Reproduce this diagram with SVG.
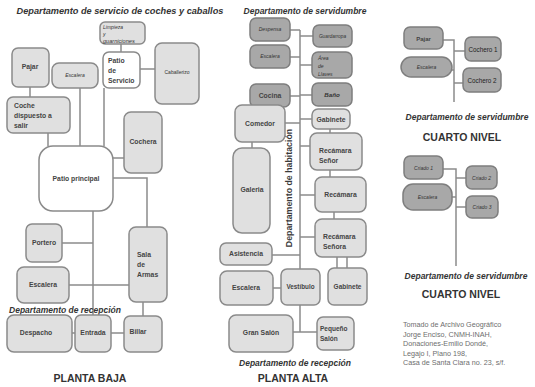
<svg xmlns="http://www.w3.org/2000/svg" width="535" height="387" viewBox="0 0 535 387">
<style>
rect{stroke-width:1.5}
.l{fill:#e0e0e0;stroke:#8a8a8a}
.w{fill:#ffffff;stroke:#8a8a8a}
.d{fill:#a8a8a8;stroke:#7e7e7e}
#connectors path{stroke:#8c8c8c;stroke-width:1.5;fill:none}
text{font-family:"Liberation Sans",Arial,sans-serif;fill:#444}
.t{font-weight:bold;font-size:6.8px;text-anchor:middle}
.tl{font-weight:bold;font-size:6.8px}
.s{font-style:italic;font-size:5px;text-anchor:middle;fill:#333}
.sl{font-style:italic;font-size:5px;fill:#333}
.h{font-weight:bold;font-style:italic;font-size:8.5px;text-anchor:middle;fill:#333}
.p{font-weight:bold;font-size:10.5px;text-anchor:middle;fill:#333}
.cr{font-size:7.2px;fill:#6e6e6e}
</style>
<rect width="535" height="387" fill="#ffffff"/>
<g id="connectors">
<path d="M121,44V52M140,69H155M30,87V97M80,88V146M104,88V146M48,133V146M113,158H124M113,178H147V227M93,211V315M62,243H93M69,285H129M72,333H75M111,333H124M143,302V316"/>
<path d="M300,30V269M290,30H300M290,57H300M290,96H300M285,123H300M300,36H313M300,65H312M300,95H312M300,119H312M330,129V133M300,146H310M330,170V177M300,195H315M334,212V219M300,237H315M252,142V148M272,255H300M273,288H281M337,257V268M347,257V268M300,305V332M293,332H317"/>
<path d="M443,40H454V102M452,70H454M454,51H465M454,83H463"/>
<path d="M443,169H456V266M452,197H456M456,178H466M456,207H466"/>
</g>
<g id="labels">
<text class="h" x="120" y="14" style="font-size:9.2px">Departamento de servicio de coches y caballos</text>
<text class="h" x="305" y="14">Departamento de servidumbre</text>
<text class="h" x="65" y="313">Departamento de recepción</text>
<text class="p" x="90" y="382">PLANTA BAJA</text>
<text class="h" x="295" y="366">Departamento de recepción</text>
<text class="p" x="293" y="382">PLANTA ALTA</text>
<text style="font-weight:bold;font-size:8.8px;text-anchor:middle;fill:#3a3a3a" transform="translate(292,188) rotate(-90)">Departamento de habitación</text>
<text class="h" x="467" y="120">Departamento de servidumbre</text>
<text class="p" x="462" y="141">CUARTO NIVEL</text>
<text class="h" x="466" y="279">Departamento de servidumbre</text>
<text class="p" x="461" y="298">CUARTO NIVEL</text>
<text class="cr" x="403" y="327">Tomado de Archivo Geográfico</text>
<text class="cr" x="403" y="336.5">Jorge Enciso, CNMH-INAH,</text>
<text class="cr" x="403" y="346">Donaciones-Emilio Dondé,</text>
<text class="cr" x="403" y="355.5">Legajo I, Plano 198,</text>
<text class="cr" x="403" y="365">Casa de Santa Clara no. 23, s/f.</text>
</g>
<g id="limpieza"><rect class="l" x="100" y="22" width="45" height="22" rx="5"/><text class="sl" x="103" y="29">Limpieza</text><text class="sl" x="103" y="36">y</text><text class="sl" x="103" y="43" style="font-size:5.6px">guarniciones</text></g>
<g id="patio-servicio"><rect class="w" x="103" y="52" width="37" height="36" rx="6"/><text class="tl" x="108" y="63">Patio</text><text class="tl" x="108" y="73">de</text><text class="tl" x="108" y="83">Servicio</text></g>
<g id="caballerizo"><rect class="l" x="155" y="43" width="44" height="61" rx="7"/><text class="s" x="177" y="74" style="font-style:normal">Caballerizo</text></g>
<g id="pajar"><rect class="l" x="12" y="48" width="37" height="39" rx="6"/><text class="t" x="30" y="69">Pajar</text></g>
<g id="escalera-pb1"><rect class="l" x="52" y="63" width="46" height="25" rx="7"/><text class="s" x="75" y="77">Escalera</text></g>
<g id="coche"><rect class="l" x="7" y="97" width="63" height="36" rx="6"/><text class="tl" x="14" y="108">Coche</text><text class="tl" x="14" y="118">dispuesto a</text><text class="tl" x="14" y="128">salir</text></g>
<g id="patio-principal"><rect class="w" x="39" y="146" width="74" height="65" rx="14"/><text class="t" x="76" y="181">Patio principal</text></g>
<g id="cochera"><rect class="l" x="124" y="112" width="38" height="61" rx="7"/><text class="t" x="143" y="144">Cochera</text></g>
<g id="portero"><rect class="l" x="26" y="224" width="36" height="38" rx="6"/><text class="t" x="44" y="245">Portero</text></g>
<g id="sala-armas"><rect class="l" x="129" y="227" width="38" height="75" rx="7"/><text class="tl" x="137" y="257">Sala</text><text class="tl" x="137" y="267">de</text><text class="tl" x="137" y="277">Armas</text></g>
<g id="escalera-pb2"><rect class="l" x="17" y="267" width="52" height="36" rx="7"/><text class="t" x="43" y="287">Escalera</text></g>
<g id="despacho"><rect class="l" x="7" y="315" width="65" height="37" rx="7"/><text class="t" x="36" y="335">Despacho</text></g>
<g id="entrada"><rect class="l" x="75" y="315" width="36" height="37" rx="6"/><text class="t" x="93" y="335">Entrada</text></g>
<g id="billar"><rect class="l" x="124" y="316" width="38" height="36" rx="6"/><text class="t" x="138" y="334">Billar</text></g>
<g id="despensa"><rect class="d" x="250" y="18" width="40" height="23" rx="6"/><text class="s" x="270" y="31">Despensa</text></g>
<g id="escalera-pa1"><rect class="d" x="250" y="45" width="40" height="23" rx="6"/><text class="s" x="270" y="58">Escalera</text></g>
<g id="cocina"><rect class="d" x="250" y="84" width="40" height="23" rx="6"/><text class="t" x="270" y="98">Cocina</text></g>
<g id="comedor"><rect class="l" x="235" y="105" width="50" height="37" rx="7"/><text class="t" x="260" y="126">Comedor</text></g>
<g id="galeria"><rect class="l" x="233" y="148" width="37" height="85" rx="9"/><text class="t" x="252" y="192">Galeria</text></g>
<g id="asistencia"><rect class="l" x="220" y="243" width="52" height="22" rx="6"/><text class="t" x="246" y="256">Asistencia</text></g>
<g id="escalera-pa2"><rect class="l" x="220" y="271" width="53" height="34" rx="7"/><text class="t" x="246" y="290">Escalera</text></g>
<g id="vestibulo"><rect class="l" x="281" y="269" width="39" height="36" rx="6"/><text class="t" x="300.5" y="289" style="font-size:6.3px">Vestíbulo</text></g>
<g id="gabinete-b"><rect class="l" x="328" y="268" width="39" height="37" rx="6"/><text class="t" x="347.5" y="289" style="font-size:6.5px">Gabinete</text></g>
<g id="gran-salon"><rect class="l" x="229" y="315" width="64" height="37" rx="7"/><text class="t" x="261" y="335">Gran Salón</text></g>
<g id="pequeno-salon"><rect class="l" x="317" y="317" width="37" height="33" rx="6"/><text class="tl" x="320" y="331" style="font-size:6.5px">Pequeño</text><text class="tl" x="320" y="341" style="font-size:6.5px">Salón</text></g>
<g id="guardarropa"><rect class="d" x="313" y="25" width="39" height="22" rx="6"/><text class="s" x="332.5" y="38" style="font-size:4.8px">Guardarropa</text></g>
<g id="area-llaves"><rect class="d" x="312" y="52" width="40" height="26" rx="6"/><text class="sl" x="318" y="60">Área</text><text class="sl" x="318" y="68">de</text><text class="sl" x="318" y="76">Llaves</text></g>
<g id="bano"><rect class="d" x="312" y="83" width="40" height="23" rx="6"/><text class="s" x="332" y="97" style="font-size:6.2px;font-weight:bold">Baño</text></g>
<g id="gabinete-t"><rect class="l" x="312" y="109" width="38" height="20" rx="6"/><text class="t" x="331" y="122">Gabinete</text></g>
<g id="recamara-senor"><rect class="l" x="310" y="133" width="52" height="37" rx="7"/><text class="tl" x="319" y="153">Recámara</text><text class="tl" x="319" y="163">Señor</text></g>
<g id="recamara"><rect class="l" x="315" y="177" width="51" height="35" rx="7"/><text class="t" x="340.5" y="197">Recámara</text></g>
<g id="recamara-senora"><rect class="l" x="315" y="219" width="51" height="38" rx="7"/><text class="tl" x="323" y="239">Recámara</text><text class="tl" x="323" y="249">Señora</text></g>
<g id="pajar-c"><rect class="d" x="404" y="27" width="39" height="22" rx="6"/><text class="t" x="423.5" y="40.5" style="font-size:6px">Pajar</text></g>
<g id="escalera-c1"><rect class="d" x="401" y="57" width="51" height="20" rx="10"/><text class="s" x="426.5" y="69">Escalera</text></g>
<g id="cochero-1"><rect class="d" x="465" y="37" width="36" height="24" rx="6"/><text class="t" x="483" y="51.5" style="font-size:6.3px;font-weight:normal;fill:#222">Cochero 1</text></g>
<g id="cochero-2"><rect class="d" x="463" y="68" width="38" height="24" rx="6"/><text class="t" x="482" y="82.5" style="font-size:6.3px;font-weight:normal;fill:#222">Cochero 2</text></g>
<g id="criado-1"><rect class="d" x="404" y="156" width="39" height="23" rx="6"/><text class="s" x="423.5" y="169.5">Criado 1</text></g>
<g id="escalera-c2"><rect class="d" x="403" y="184" width="49" height="26" rx="10"/><text class="s" x="427.5" y="198.5">Escalera</text></g>
<g id="criado-2"><rect class="d" x="466" y="166" width="31" height="23" rx="6"/><text class="s" x="481.5" y="179.5">Criado 2</text></g>
<g id="criado-3"><rect class="d" x="466" y="196" width="32" height="22" rx="6"/><text class="s" x="482" y="209">Criado 3</text></g>
</svg>
